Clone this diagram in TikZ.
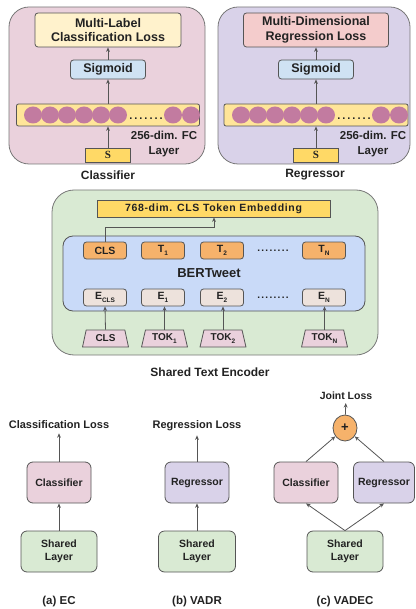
\documentclass[tikz,border=0pt]{standalone}
\usepackage{fontspec}
\setmainfont{Liberation Sans}
\newfontfamily\serifS{Liberation Serif}
\usetikzlibrary{shapes.geometric,arrows.meta}
\definecolor{txt}{HTML}{222222}
\definecolor{edge}{HTML}{555555}
\definecolor{pedge}{HTML}{777777}
\definecolor{clsbg}{HTML}{EAD1DC}
\definecolor{regbg}{HTML}{D9D2E9}
\definecolor{encbg}{HTML}{D9EAD3}
\definecolor{losscls}{HTML}{FFF2CC}
\definecolor{lossreg}{HTML}{F4CCCC}
\definecolor{sigbg}{HTML}{CFE2F3}
\definecolor{barbg}{HTML}{FFE599}
\definecolor{dotc}{HTML}{C27BA0}
\definecolor{ybox}{HTML}{FFD966}
\definecolor{bertbg}{HTML}{C9DAF8}
\definecolor{tokbg}{HTML}{F6B26B}
\definecolor{embbg}{HTML}{EDE2DC}
\definecolor{inbg}{HTML}{EAD1DC}
\newcommand{\sbx}[1]{\raisebox{-2.5pt}{\fontsize{6.5}{7}\selectfont #1}}
\newcommand{\fs}[1]{\fontsize{#1}{#1}\selectfont\bfseries}
\tikzset{
  panel/.style={draw=pedge, line width=0.8pt, rounded corners=20pt, inner sep=0pt},
  box/.style={draw=edge, line width=0.8pt, rounded corners=3pt, inner sep=0pt, text=txt},
  sbox/.style={box, rounded corners=6pt, minimum height=41pt},
  dotn/.style={ellipse, fill=dotc, minimum width=18pt, minimum height=17pt, inner sep=0pt},
  tok/.style={box, fill=tokbg, minimum width=43pt, minimum height=17pt, font=\fs{10.5}},
  emb/.style={box, fill=embbg, minimum width=43pt, minimum height=17pt, font=\fs{10.5}},
  inp/.style={trapezium, trapezium stretches=true, trapezium left angle=75, trapezium right angle=75,
     draw=edge, line width=0.8pt, fill=inbg, minimum width=46pt, minimum height=17pt, inner sep=0pt,
     text=txt, font=\fs{10}},
  lbl/.style={text=txt, inner sep=3pt},
  arr/.style={draw=edge, line width=0.8pt, -{Stealth[length=4.5pt,width=3.8pt]}},
}
\begin{document}
\begin{tikzpicture}[x=1pt,y=-1pt]
\useasboundingbox (0,0) rectangle (415,609);
% ---------- Classifier panel ----------
\node[panel, fill=clsbg, minimum width=196pt, minimum height=157pt] (cpanel) at (107,85.5) {};
\node[box, fill=losscls, minimum width=146pt, minimum height=34pt, align=center,
      font=\fontsize{12.5}{14.5}\selectfont\bfseries] (closs) at (108,30) {Multi-Label\\Classification Loss};
\node[box, fill=sigbg, minimum width=75pt, minimum height=19pt, font=\fs{12.5}] (csig) at (108,69.5) {Sigmoid};
\node[box, rounded corners=2pt, fill=barbg, minimum width=183pt, minimum height=22pt] (cbar) at (108,115) {};
\foreach \i/\x in {1/33,2/50,3/67,4/84,5/101,6/118,7/173,8/191}
  \node[dotn] (cd\i) at (\x,115) {};
\node[text=txt, inner sep=0pt, font=\fs{11}\addfontfeature{LetterSpace=18}] (cdots) at (146,119) {.......};
\node[box, rounded corners=0pt, fill=ybox, minimum width=45pt, minimum height=14pt,
      font=\fontsize{11}{11}\selectfont\serifS\bfseries] (cs) at (108,155) {S};
\node[lbl, align=center, font=\fontsize{11.5}{15}\selectfont\bfseries] (cfc) at (164,144.5) {256-dim. FC\\Layer};
\node[lbl, font=\fs{12}] (clab) at (108,175) {Classifier};
\draw[arr] (cs) -- (cbar);
\draw[arr] (cbar) -- (csig);
\draw[arr] (csig) -- (closs);
% ---------- Regressor panel ----------
\node[panel, fill=regbg, minimum width=192pt, minimum height=157pt] (rpanel) at (314,85.5) {};
\node[box, fill=lossreg, minimum width=145pt, minimum height=34pt, align=center,
      font=\fontsize{12.5}{14.5}\selectfont\bfseries] (rloss) at (316,30) {Multi-Dimensional\\Regression Loss};
\node[box, fill=sigbg, minimum width=75pt, minimum height=19pt, font=\fs{12.5}] (rsig) at (316,69.5) {Sigmoid};
\node[box, rounded corners=2pt, fill=barbg, minimum width=184pt, minimum height=22pt] (rbar) at (316,115) {};
\foreach \i/\x in {1/241,2/258,3/275,4/292,5/309,6/326,7/381,8/399}
  \node[dotn] (rd\i) at (\x,115) {};
\node[text=txt, inner sep=0pt, font=\fs{11}\addfontfeature{LetterSpace=18}] (rdots) at (354,119) {.......};
\node[box, rounded corners=0pt, fill=ybox, minimum width=45pt, minimum height=14pt,
      font=\fontsize{11}{11}\selectfont\serifS\bfseries] (rs) at (316,155) {S};
\node[lbl, align=center, font=\fontsize{11.5}{15}\selectfont\bfseries] (rfc) at (373,144.5) {256-dim. FC\\Layer};
\node[lbl, font=\fs{12}] (rlab) at (315,175) {Regressor};
\draw[arr] (rs) -- (rbar);
\draw[arr] (rbar) -- (rsig);
\draw[arr] (rsig) -- (rloss);
% ---------- Shared Text Encoder ----------
\node[panel, rounded corners=22pt, fill=encbg, minimum width=326pt, minimum height=165pt] (epanel) at (215,272.5) {};
\node[box, rounded corners=0pt, fill=ybox, minimum width=233pt, minimum height=17pt,
      font=\fs{10.5}\addfontfeature{LetterSpace=6.4}] (emb768) at (213.5,208.5) {768-dim. CLS Token Embedding};
\node[box, rounded corners=10pt, fill=bertbg, minimum width=302pt, minimum height=75pt] (bert) at (214,273.5) {};
\node[lbl, font=\fs{13}] (bertlab) at (209,273) {BERTweet};
\node[tok] (tcls) at (105,250.5) {CLS};
\node[tok] (t1) at (163,250.5) {T\sbx{1}};
\node[tok] (t2) at (222,250.5) {T\sbx{2}};
\node[tok] (tn) at (324,250.5) {T\sbx{N}};
\node[text=txt, inner sep=0pt, font=\fs{10}\addfontfeature{LetterSpace=13}] (tdots) at (273,251) {........};
\node[emb] (ecls) at (105,297.5) {E\sbx{CLS}};
\node[emb] (e1) at (163,297.5) {E\sbx{1}};
\node[emb] (e2) at (222,297.5) {E\sbx{2}};
\node[emb] (en) at (324,297.5) {E\sbx{N}};
\node[text=txt, inner sep=0pt, font=\fs{10}\addfontfeature{LetterSpace=13}] (edots) at (273,298) {........};
\node[inp] (icls) at (105.5,338.5) {CLS};
\node[inp] (i1) at (164.5,338.5) {TOK\sbx{1}};
\node[inp] (i2) at (223,338.5) {TOK\sbx{2}};
\node[inp] (in) at (324.5,338.5) {TOK\sbx{N}};
\draw[arr] (icls.top side) -- (ecls.south);
\draw[arr] (i1.top side) -- (e1.south -| i1.top side);
\draw[arr] (i2.top side) -- (e2.south -| i2.top side);
\draw[arr] (in.top side) -- (en.south -| in.top side);
\coordinate (bend) at (214,227);
\draw[arr] (tcls.north) |- (bend) -- (emb768.south -| bend);
\node[lbl, font=\fs{12}] (elab) at (210,372) {Shared Text Encoder};
% ---------- (a) EC ----------
\node[lbl, inner sep=4pt, font=\fs{11}] (lossa) at (59,425) {Classification Loss};
\node[sbox, fill=clsbg, minimum width=64pt, font=\fs{10.5}] (clfa) at (59,482.5) {Classifier};
\node[sbox, fill=encbg, minimum width=76pt, align=center, font=\fontsize{10.5}{13.5}\selectfont\bfseries] (sha) at (59,551.5) {Shared\\Layer};
\node[lbl, font=\fs{11.5}] (laba) at (59,602) {(a) EC};
\draw[arr] (sha) -- (clfa);
\draw[arr] (clfa) -- (lossa);
% ---------- (b) VADR ----------
\node[lbl, inner sep=4pt, font=\fs{11}] (lossb) at (197,426) {Regression Loss};
\node[sbox, fill=regbg, minimum width=64pt, font=\fs{10.5}] (regb) at (197,482.5) {Regressor};
\node[sbox, fill=encbg, minimum width=77pt, align=center, font=\fontsize{10.5}{13.5}\selectfont\bfseries] (shb) at (197,551.5) {Shared\\Layer};
\node[lbl, font=\fs{11.5}] (labb) at (197,602) {(b) VADR};
\draw[arr] (shb) -- (regb);
\draw[arr] (regb) -- (lossb);
% ---------- (c) VADEC ----------
\node[lbl, inner sep=3pt, font=\fs{10.5}] (joint) at (346,396) {Joint Loss};
\node[ellipse, draw=edge, line width=0.8pt, fill=tokbg, minimum width=24pt, minimum height=26pt,
      inner sep=0pt, text=txt, font=\fs{13}] (plus) at (345,428) {+};
\node[sbox, fill=clsbg, minimum width=64pt, font=\fs{10.5}] (clfc) at (306,482.5) {Classifier};
\node[sbox, fill=regbg, minimum width=61pt, font=\fs{10.5}] (regc) at (384,482.5) {Regressor};
\node[sbox, fill=encbg, minimum width=76pt, align=center, font=\fontsize{10.5}{13.5}\selectfont\bfseries] (shc) at (345,551.5) {Shared\\Layer};
\node[lbl, font=\fs{11.5}] (labc) at (345,602) {(c) VADEC};
\draw[arr] (shc.north) -- (clfc.south);
\draw[arr] (shc.north) -- (regc.south);
\draw[arr] (clfc.north) -- (plus);
\draw[arr] (regc.north) -- (plus);
\draw[arr] (plus) -- (joint);
\end{tikzpicture}
\end{document}
